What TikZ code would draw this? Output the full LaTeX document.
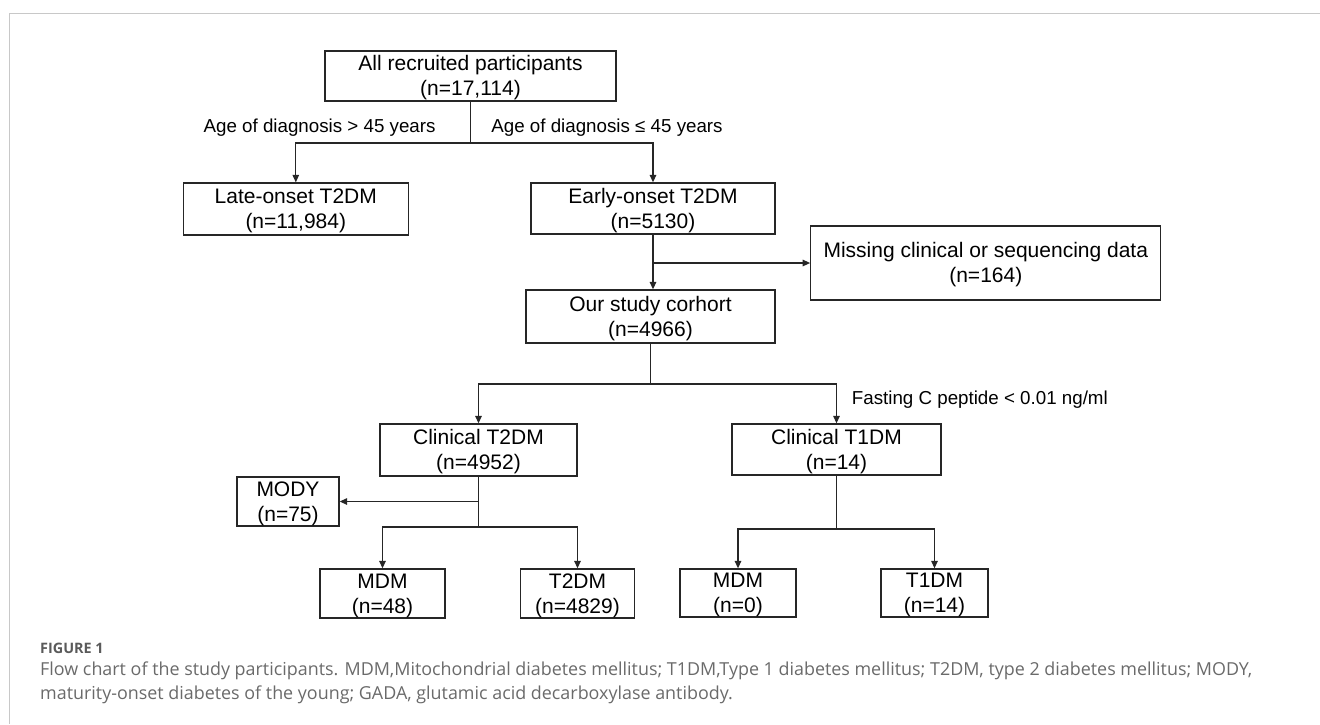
\documentclass[tikz,border=0pt]{standalone}
\usepackage{fontspec}
\setmainfont{Liberation Sans}
\newfontfamily\capfont{Open Sans}
\usepackage{tikz}
\usetikzlibrary{arrows.meta}

\definecolor{framegray}{HTML}{C8C8C8}
\definecolor{capgray}{HTML}{6A6A6A}
\definecolor{figgray}{HTML}{5A5A5A}
\definecolor{linecol}{HTML}{262626}

% two centred lines, the first with a full ascender
\newcommand{\twoline}[2]{\rule{0pt}{18.5pt}#1\\#2}

\tikzset{
  box/.style={draw=linecol, line width=1.3pt, align=center, inner sep=0pt,
    font=\fontsize{21}{25}\selectfont},
  cond/.style={inner sep=0pt, font=\fontsize{18.75}{22}\selectfont},
  conn/.style={draw=linecol, line width=1.3pt},
  arr/.style={conn, -{Triangle[length=7.5pt,width=6.5pt]}},
  capline/.style={anchor=west, inner sep=0pt, text=capgray,
    font=\capfont\fontsize{17.9}{22}\selectfont}
}

\begin{document}
\begin{tikzpicture}[x=1pt,y=-1pt]
\useasboundingbox (0,0) rectangle (1320,724);
% card frame
\draw[framegray, line width=1.2pt] (9.3,13.3) -- (1320,13.3);
\draw[framegray, line width=1.2pt] (9.3,13.3) -- (9.3,724);

% first split
\node[box, minimum width=291pt, minimum height=50pt] (all) at (470.5,76) {\twoline{All recruited participants}{(n=17,114)}};
\node[box, minimum width=225pt, minimum height=52pt] (late) at (295.8,209) {\twoline{Late-onset T2DM}{(n=11,984)}};
\node[box, minimum width=244pt, minimum height=51pt] (early) at (653,208.5) {\twoline{Early-onset T2DM}{(n=5130)}};
\node[cond] (agehi) at (319.6,128) {Age of diagnosis > 45 years};
\node[cond] (agelo) at (607,128) {Age of diagnosis ≤ 45 years};

% exclusion
\node[box, minimum width=350pt, minimum height=74pt] (missing) at (985.8,263) {\twoline{Missing clinical or sequencing data}{(n=164)}};
\node[box, minimum width=249pt, minimum height=53pt] (cohort) at (650.5,316.5) {\twoline{Our study corhort}{(n=4966)}};

% clinical groups
\node[box, minimum width=197pt, minimum height=52pt] (ct2) at (478.5,450) {\twoline{Clinical T2DM}{(n=4952)}};
\node[box, minimum width=209pt, minimum height=51pt] (ct1) at (836.5,449.5) {\twoline{Clinical T1DM}{(n=14)}};
\node[cond, anchor=west] (cpep) at (851.7,400) {Fasting C peptide < 0.01 ng/ml};

% final groups
\node[box, minimum width=102pt, minimum height=49pt] (mody) at (288,501.5) {\twoline{MODY}{(n=75)}};
\node[box, minimum width=125pt, minimum height=49pt] (mdmA) at (382.5,593.5) {\twoline{MDM}{(n=48)}};
\node[box, minimum width=114pt, minimum height=49pt] (t2dm) at (577.5,593.5) {\twoline{T2DM}{(n=4829)}};
\node[box, minimum width=116pt, minimum height=48pt] (mdmB) at (738,593) {\twoline{MDM}{(n=0)}};
\node[box, minimum width=107pt, minimum height=48pt] (t1dm) at (934.5,593) {\twoline{T1DM}{(n=14)}};

% connectors
\coordinate (jall) at (470.5,143);
\draw[conn] (all) -- (jall);
\draw[arr] (jall) -| (late);
\draw[arr] (jall) -| (early);

\coordinate (jearly) at (653,263);
\draw[arr] (early.south) -- (early.south |- cohort.north);
\draw[arr] (jearly) -- (missing.west |- jearly);

\coordinate (jcoh) at (650.5,384);
\draw[conn] (cohort) -- (jcoh);
\draw[arr] (jcoh) -| (ct2);
\draw[arr] (jcoh) -| (ct1);

\coordinate (jct2) at (478.5,527);
\draw[conn] (ct2) -- (jct2);
\draw[arr] (ct2.south |- mody.east) -- (mody.east);
\draw[arr] (jct2) -| (mdmA);
\draw[arr] (jct2) -| (t2dm);

\coordinate (jct1) at (836.5,529);
\draw[conn] (ct1) -- (jct1);
\draw[arr] (jct1) -| (mdmB);
\draw[arr] (jct1) -| (t1dm);

% caption
\node[capline, text=figgray, font=\capfont\bfseries\fontsize{14.4}{17}\selectfont] (fig) at (40,648) {FIGURE 1};
\node[capline] (cap1) at (40,671) {Flow chart of the study participants. MDM,Mitochondrial diabetes mellitus; T1DM,Type 1 diabetes mellitus; T2DM, type 2 diabetes mellitus; MODY,};
\node[capline] (cap2) at (40,695) {maturity-onset diabetes of the young; GADA, glutamic acid decarboxylase antibody.};
\end{tikzpicture}
\end{document}
